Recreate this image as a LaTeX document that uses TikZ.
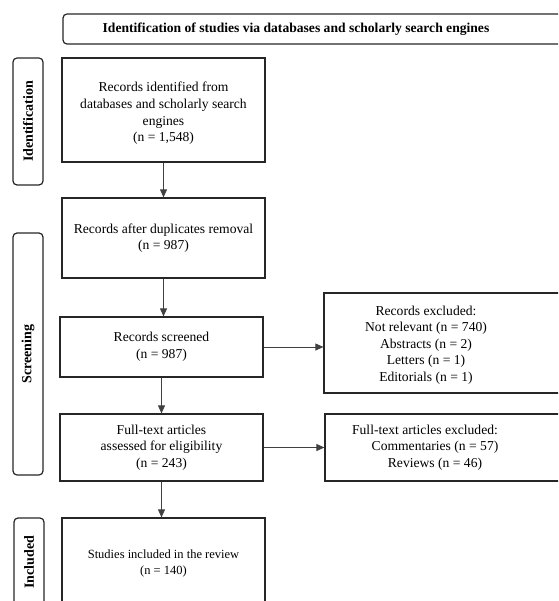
\documentclass[tikz,border=0pt]{standalone}
\usepackage{fontspec}
\setmainfont{Liberation Serif}
\usetikzlibrary{arrows.meta}
\begin{document}
\begin{tikzpicture}[x=1pt,y=-1pt,
  box/.style={draw=black!85, line width=1.2pt, rectangle, inner sep=0pt},
  lblbox/.style={draw=black!85, line width=1.2pt, rounded corners=4pt},
  arr/.style={draw=black!75, line width=0.8pt, -{Triangle[length=8pt,width=7pt]}},
  txt/.style={align=center, inner sep=0pt, font=\fontsize{13.6}{16.6}\selectfont},
  smalltxt/.style={align=center, inner sep=0pt, font=\fontsize{12.5}{16.6}\selectfont},
  hdrtxt/.style={inner sep=0pt, font=\bfseries\fontsize{13.6}{16}\selectfont},
  sidetxt/.style={inner sep=0pt, rotate=90, font=\bfseries\fontsize{14}{16}\selectfont}
]
\useasboundingbox (0,0) rectangle (558,601);
\clip (0,0) rectangle (558,601);

% header
\draw[lblbox] (63,14) rectangle (620,44);
\node[hdrtxt] (hdr) at (296,29.5) {Identification of studies via databases and scholarly search engines};

% side labels
\draw[lblbox] (13,58) rectangle (43,185);
\node[sidetxt] (sid) at (28,121.5) {Identification};
\draw[lblbox] (13,233) rectangle (43,475);
\node[sidetxt] (sscr) at (28,354) {Screening};
\draw[lblbox] (14,518) rectangle (44,640);
\node[sidetxt] (sinc) at (29,562) {Included};

% main boxes
\node[box, minimum width=203pt, minimum height=104pt] (b1) at (163.5,110) {};
\node[txt] (b1t) at (163.5,113.5)
  {Records identified from\\databases and scholarly search\\engines\\(n = 1,548)};
\node[box, txt, minimum width=203pt, minimum height=80pt] (b2) at (163.5,238)
  {Records after duplicates removal\\(n = 987)};
\node[box, txt, minimum width=203pt, minimum height=60pt] (b3) at (161.5,347)
  {Records screened\\(n = 987)};
\node[box, txt, minimum width=203pt, minimum height=67pt] (b4) at (161.5,447.5)
  {Full-text articles\\assessed for eligibility\\(n = 243)};
\node[box, minimum width=203pt, minimum height=122pt] (b5) at (163.5,579) {};
\node[smalltxt] (b5t) at (163.5,563.5) {Studies included in the review\\(n = 140)};

% exclusion boxes
\node[box, minimum width=300pt, minimum height=100pt] (e1) at (474,343) {};
\node[txt] (e1t) at (426,345) {Records excluded:\\Not relevant (n = 740)\\Abstracts (n = 2)\\Letters (n = 1)\\Editorials (n = 1)};
\node[box, minimum width=300pt, minimum height=67pt] (e2) at (475,447.5) {};
\node[txt] (e2t) at (425,447.5) {Full-text articles excluded:\\\hspace*{20pt}Commentaries (n = 57)\\\hspace*{20pt}Reviews (n = 46)};

% connectors
\draw[arr] (b1.south) -- (b1.south |- b2.north);
\draw[arr] (b2.south) -- (b2.south |- b3.north);
\draw[arr] (b3.south) -- (b3.south |- b4.north);
\draw[arr] (b4.south) -- (b4.south |- b5.north);
\draw[arr] (b3.east) -- (b3.east -| e1.west);
\draw[arr] (b4.east) -- (b4.east -| e2.west);
\end{tikzpicture}
\end{document}
